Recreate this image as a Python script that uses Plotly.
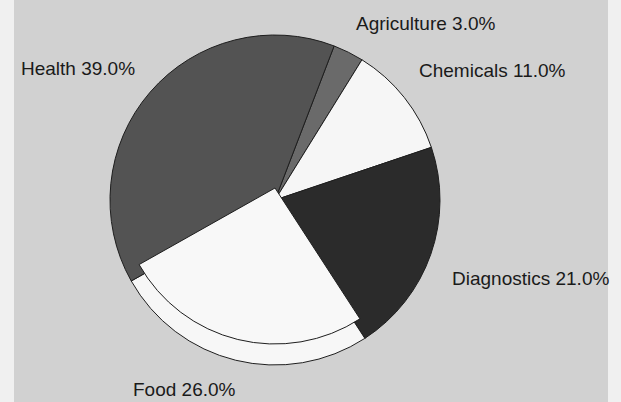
import plotly.graph_objects as go

# ---- data ----
labels = ["Agriculture", "Chemicals", "Diagnostics", "Food", "Health"]
values = [3.0, 11.0, 21.0, 26.0, 39.0]
colors = ["#6a6a6a", "#f6f6f6", "#2b2b2b", "#f7f7f7", "#535353"]

W, H = 621, 402

def px_x(v):
    return v / W

def px_y(v):
    return 1 - v / H

fig = go.Figure()

# main pie (full disc incl. food rim)
fig.add_trace(go.Pie(
    labels=labels, values=values, sort=False, direction="clockwise",
    rotation=21, textinfo="none", hoverinfo="label+percent",
    marker=dict(colors=colors, line=dict(color="#1e1e1e", width=1)),
    domain=dict(x=[px_x(110), px_x(440)], y=[px_y(365), px_y(35)]),
    showlegend=False,
))

# raised top face of the Food slice (pseudo 3D)
face_colors = ["rgba(0,0,0,0)" if l != "Food" else "#f8f8f8" for l in labels]
face_lw = [0 if l != "Food" else 1 for l in labels]
fig.add_trace(go.Pie(
    labels=labels, values=values, sort=False, direction="clockwise",
    rotation=21, textinfo="none", hoverinfo="skip",
    marker=dict(colors=face_colors, line=dict(color="#1e1e1e", width=face_lw)),
    domain=dict(x=[px_x(119), px_x(431)], y=[px_y(344), px_y(32)]),
    showlegend=False,
))

# label placement (left edge px, vertical centre px)
label_pos = {
    "Agriculture": (354, 23),
    "Chemicals": (417, 70),
    "Diagnostics": (450, 278),
    "Food": (131, 389),
    "Health": (19, 68),
}
total = sum(values)
for l, v in zip(labels, values):
    x0, y0 = label_pos[l]
    fig.add_annotation(
        x=px_x(x0), y=px_y(y0), xref="paper", yref="paper",
        xanchor="left", yanchor="middle", showarrow=False,
        text=f"{l} {100 * v / total:.1f}%",
        font=dict(family="Liberation Sans, Arial, sans-serif", size=19, color="#1a1a1a"),
    )

fig.add_shape(type="rect", xref="paper", yref="paper",
              x0=px_x(14), x1=px_x(608), y0=0, y1=1,
              fillcolor="#d1d1d1", line=dict(width=0), layer="below")

fig.update_layout(
    width=W, height=H,
    margin=dict(l=0, r=0, t=0, b=0),
    paper_bgcolor="#f0f0f0",
    plot_bgcolor="#d1d1d1",
    font=dict(family="Liberation Sans, Arial, sans-serif", size=19, color="#1a1a1a"),
)

fig.write_html("out.html", config={"displayModeBar": False},
               post_script="document.body.style.margin='0';")
